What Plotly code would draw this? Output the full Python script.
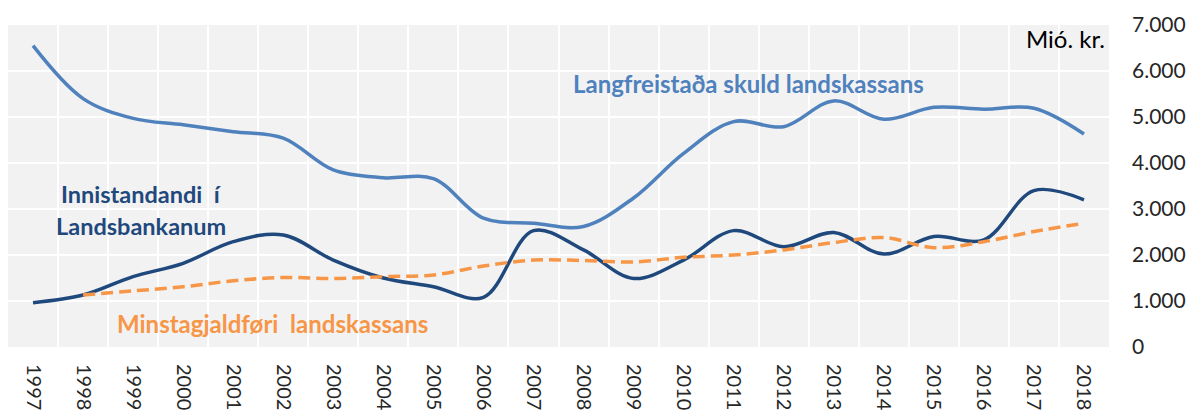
import plotly.graph_objects as go

years = list(range(1997, 2019))
year_labels = [str(y) for y in years]

langfreist = [6550, 5400, 4970, 4830, 4680, 4540, 3850, 3680, 3660, 2800, 2690, 2620,
              3240, 4210, 4900, 4790, 5350, 4950, 5210, 5170, 5190, 4630]
innistandandi = [963, 1130, 1530, 1820, 2290, 2435, 1890, 1500, 1310, 1080, 2530, 2110,
                 1490, 1890, 2530, 2180, 2490, 2020, 2400, 2330, 3400, 3200]
minstagjald_years = years[1:]
minstagjald = [1130, 1220, 1310, 1440, 1510, 1490, 1530, 1565, 1760, 1890, 1880,
               1850, 1950, 2000, 2110, 2270, 2380, 2160, 2290, 2510, 2690]

y_ticks = [0, 1000, 2000, 3000, 4000, 5000, 6000, 7000]
y_tick_labels = ["0", "1.000", "2.000", "3.000", "4.000", "5.000", "6.000", "7.000"]

C_LIGHT = "#4f81bd"
C_DARK = "#1f497d"
C_ORANGE = "#f79646"

fig = go.Figure()
fig.add_trace(go.Scatter(x=years, y=langfreist, mode="lines",
                         line=dict(color=C_LIGHT, width=3.5, shape="spline")))
fig.add_trace(go.Scatter(x=years, y=innistandandi, mode="lines",
                         line=dict(color=C_DARK, width=3.5, shape="spline")))
fig.add_trace(go.Scatter(x=minstagjald_years, y=minstagjald, mode="lines",
                         line=dict(color=C_ORANGE, width=3.5, shape="spline", dash="12px,6px")))

font_main = "Lato"

# page body has an 8px default margin; figure is sized to fit inside the window
fig.update_layout(
    width=1188, height=402,
    margin=dict(l=0, r=87, t=17, b=63),
    paper_bgcolor="white",
    plot_bgcolor="#f2f2f2",
    showlegend=False,
    font=dict(family=font_main, color="#262626"),
)

fig.update_xaxes(
    range=[1996.5, 2018.5],
    tickmode="array", tickvals=years, ticktext=year_labels,
    tickangle=90,
    tickfont=dict(size=20, color="#262626", family=font_main),
    showgrid=False, zeroline=False, showline=False,
    ticks="", ticklabelstandoff=16, automargin=False,
    minor=dict(tickmode="linear", tick0=1996.5, dtick=1, showgrid=True,
               gridcolor="white", gridwidth=2, ticks=""),
)
fig.update_yaxes(
    side="right",
    range=[0, 7000],
    tickmode="array", tickvals=y_ticks, ticktext=y_tick_labels,
    tickfont=dict(size=21, color="#262626", family=font_main),
    showgrid=True, gridcolor="white", gridwidth=2,
    zeroline=False, showline=False, ticks="",
    ticklabelstandoff=22, automargin=False,
)


def px(xp):
    return (xp - 8) / 1101.0


def py(yp):
    return (347 - yp) / 322.0


def ann(text, x, y, color, size, bold=True, xanchor="center"):
    fig.add_annotation(
        x=x, y=y, xref="paper", yref="paper",
        text=f"<b>{text}</b>" if bold else text,
        showarrow=False, xanchor=xanchor, yanchor="middle",
        font=dict(family=font_main, size=size, color=color),
    )


ann("Langfreistaða skuld landskassans", px(748), py(84), C_LIGHT, 24)
ann("Innistandandi&nbsp;&nbsp;í", px(141), py(194), C_DARK, 23.5)
ann("Landsbankanum", px(141), py(226), C_DARK, 23.5)
ann("Minstagjaldføri&nbsp;&nbsp;landskassans", px(272), py(323), C_ORANGE, 24)
ann("Mió. kr.", px(1107), py(38), "#000000", 24, bold=False, xanchor="right")

fig.write_html("out.html")
